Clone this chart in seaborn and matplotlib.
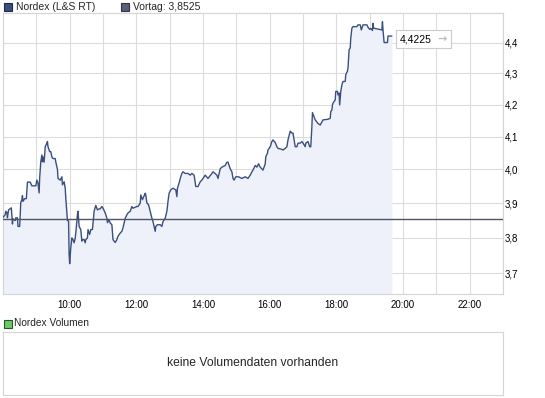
import numpy as np
import pandas as pd
import matplotlib
matplotlib.use("Agg")
import matplotlib.pyplot as plt
import seaborn as sns
from matplotlib.patches import Rectangle
from matplotlib.offsetbox import TextArea, HPacker, AnnotationBbox
from matplotlib.ticker import FixedLocator, FixedFormatter, NullLocator, NullFormatter

# price data, minutes after 08:00 and price in EUR
minutes = [0, 4, 5, 7, 8, 10, 15, 16, 17, 18, 22, 23, 26, 27, 30, 32, 34, 35, 36, 39,
           42, 44, 49, 52, 59, 61, 63, 65, 66, 68, 70, 71, 72, 74, 76, 79, 80, 81, 84, 86,
           88, 90, 94, 95, 98, 99, 103, 106, 107, 110, 112, 113, 116, 118, 119, 120, 122, 124, 126, 128,
           130, 131, 134, 135, 137, 140, 142, 144, 146, 148, 149, 152, 153, 156, 158, 161, 164, 167, 170, 173,
           175, 178, 180, 184, 187, 188, 191, 193, 196, 198, 202, 205, 207, 211, 214, 216, 220, 223, 225, 229,
           232, 234, 241, 243, 247, 248, 251, 256, 257, 259, 262, 268, 270, 274, 275, 278, 283, 286, 288, 292,
           295, 297, 299, 302, 306, 311, 313, 314, 317, 319, 322, 324, 328, 333, 337, 340, 344, 347, 351, 355,
           358, 364, 369, 376, 378, 385, 387, 391, 394, 400, 403, 405, 409, 412, 414, 416, 419, 424, 430, 436,
           441, 445, 448, 450, 454, 457, 460, 463, 468, 472, 473, 476, 477, 481, 484, 486, 490, 493, 495, 502,
           504, 508, 511, 513, 517, 520, 522, 526, 529, 531, 535, 538, 540, 544, 545, 549, 552, 554, 556, 557,
           562, 567, 571, 576, 585, 589, 590, 592, 593, 594, 598, 599, 602, 603, 605, 606, 608, 610, 612, 616,
           617, 620, 621, 623, 625, 626, 628, 630, 637, 639, 643, 645, 648, 655, 657, 660, 662, 665, 666, 667,
           682, 683, 684, 686, 692, 693, 700]
prices = [3.858, 3.866, 3.876, 3.872, 3.857, 3.880, 3.886, 3.863, 3.839, 3.854, 3.849, 3.857, 3.857, 3.832, 3.832, 3.902, 3.910, 3.922, 3.905, 3.913,
          3.913, 3.962, 3.962, 3.951, 3.951, 3.968, 3.959, 3.930, 3.974, 4.023, 4.044, 4.023, 4.038, 4.022, 4.069, 4.080, 4.085, 4.069, 4.054, 4.054,
          4.038, 4.033, 4.033, 4.023, 4.000, 3.973, 3.968, 3.978, 3.954, 3.963, 3.944, 3.915, 3.849, 3.848, 3.753, 3.726, 3.771, 3.799, 3.794, 3.785,
          3.799, 3.813, 3.866, 3.876, 3.832, 3.823, 3.790, 3.794, 3.794, 3.785, 3.794, 3.799, 3.823, 3.809, 3.823, 3.823, 3.876, 3.893, 3.880, 3.883,
          3.883, 3.890, 3.885, 3.871, 3.856, 3.843, 3.851, 3.842, 3.837, 3.794, 3.786, 3.794, 3.804, 3.813, 3.818, 3.828, 3.856, 3.866, 3.871, 3.876,
          3.890, 3.885, 3.890, 3.890, 3.900, 3.924, 3.910, 3.929, 3.924, 3.900, 3.895, 3.856, 3.846, 3.818, 3.832, 3.837, 3.837, 3.832, 3.846, 3.856,
          3.876, 3.905, 3.929, 3.939, 3.944, 3.939, 3.919, 3.944, 3.959, 3.973, 3.988, 3.993, 3.988, 3.988, 3.983, 3.988, 3.983, 3.949, 3.949, 3.963,
          3.968, 3.983, 3.973, 3.988, 3.993, 3.983, 3.973, 4.002, 4.007, 4.012, 4.022, 4.022, 4.002, 3.993, 3.973, 3.968, 3.978, 3.978, 3.973, 3.978,
          3.973, 3.983, 3.993, 3.998, 4.012, 4.007, 4.017, 4.007, 3.998, 4.017, 4.038, 4.049, 4.059, 4.069, 4.085, 4.090, 4.082, 4.069, 4.064, 4.061,
          4.059, 4.064, 4.069, 4.090, 4.117, 4.111, 4.111, 4.069, 4.069, 4.080, 4.080, 4.085, 4.080, 4.069, 4.080, 4.085, 4.069, 4.069, 4.131, 4.175,
          4.152, 4.141, 4.136, 4.152, 4.154, 4.157, 4.178, 4.183, 4.199, 4.205, 4.215, 4.242, 4.242, 4.231, 4.237, 4.199, 4.242, 4.263, 4.274, 4.274,
          4.296, 4.307, 4.318, 4.377, 4.383, 4.416, 4.449, 4.454, 4.454, 4.460, 4.460, 4.443, 4.460, 4.460, 4.452, 4.445, 4.448, 4.441, 4.465, 4.449,
          4.443, 4.471, 4.443, 4.401, 4.401, 4.4225, 4.4225]

prev_close = 3.8525
last_price = 4.4225
y_ticks = [3.7, 3.8, 3.9, 4.0, 4.1, 4.2, 4.3, 4.4]
y_labels = ["3,7", "3,8", "3,9", "4,0", "4,1", "4,2", "4,3", "4,4"]
x_hours = list(range(8, 24))
x_labels = ["", "", "10:00", "", "12:00", "", "14:00", "", "16:00", "", "18:00", "", "20:00", "", "22:00", ""]

df = pd.DataFrame({"hour": 8 + np.array(minutes) / 60.0, "price": prices})

sns.set_style("white")
plt.rcParams["font.family"] = ["Liberation Sans", "DejaVu Sans"]

W, H = 545, 398
fig = plt.figure(figsize=(W / 100, H / 100), dpi=100)


def box(l, t, r, b):
    return [l / W, 1 - b / H, (r - l) / W, (b - t) / H]


line_col = "#3b4f7d"
grid_col = "#dcdcdc"

ax = fig.add_axes(box(3, 13, 503, 294))
ax.set_yscale("log")
ax.fill_between(df["hour"], df["price"], 3.5, color="#eef1fa", lw=0, zorder=1)
sns.lineplot(data=df, x="hour", y="price", sort=False, estimator=None,
             color=line_col, lw=1.0, ax=ax, zorder=3)
ax.axhline(prev_close, color="#4f5468", lw=1.0, zorder=4)

ax.set_xlim(8, 23)
ax.set_ylim(3.642, 4.50)
ax.xaxis.set_major_locator(FixedLocator(x_hours))
ax.xaxis.set_major_formatter(FixedFormatter(x_labels))
ax.yaxis.set_major_locator(FixedLocator(y_ticks))
ax.yaxis.set_major_formatter(FixedFormatter(y_labels))
ax.yaxis.set_minor_locator(NullLocator())
ax.yaxis.set_minor_formatter(NullFormatter())
ax.yaxis.tick_right()
ax.tick_params(axis="both", length=0, labelsize=7, colors="#000000")
ax.tick_params(axis="x", pad=4.5)
ax.tick_params(axis="y", pad=1.5)
ax.grid(True, color=grid_col, lw=0.8)
ax.set_xlabel("")
ax.set_ylabel("")
for s in ax.spines.values():
    s.set_color("#d4d4d4")
    s.set_linewidth(0.8)

# last price tag: value in black, arrow in grey, one frame around both
tag = HPacker(children=[TextArea("4,4225", textprops=dict(fontsize=7.5, color="black")),
                        TextArea("\u2192", textprops=dict(fontsize=8, color="#bbbbbb",
                                                          fontweight="bold",
                                                          family=["DejaVu Sans"]))],
              align="center", pad=0, sep=4)
ab = AnnotationBbox(tag, (df["hour"].iloc[-1], last_price), xybox=(6.0, -2.2),
                    xycoords="data", boxcoords="offset points", box_alignment=(0, 0.5),
                    frameon=True, pad=0.25,
                    bboxprops=dict(boxstyle="square", fc="white", ec="#cccccc", lw=0.8))
ab.set_zorder(6)
ax.add_artist(ab)

# header legend
fig.add_artist(Rectangle((3.5 / W, 1 - 10.5 / H), 8 / W, 8 / H, transform=fig.transFigure,
                         fc=line_col, ec="#1f2a45", lw=0.8))
fig.text(15.5 / W, 1 - 6.8 / H, "Nordex (L&S RT)", fontsize=7.5, va="center", ha="left")
fig.add_artist(Rectangle((121 / W, 1 - 10.5 / H), 8 / W, 8 / H, transform=fig.transFigure,
                         fc="#5a5f75", ec="#30334a", lw=0.8))
fig.text(133 / W, 1 - 6.8 / H, "Vortag: 3,8525", fontsize=7.5, va="center", ha="left")

# volume panel
fig.add_artist(Rectangle((3.5 / W, 1 - 327.5 / H), 8 / W, 8 / H, transform=fig.transFigure,
                         fc="#66cc66", ec="#2f4f2f", lw=0.8))
fig.text(14.5 / W, 1 - 323.5 / H, "Nordex Volumen", fontsize=7.3, va="center", ha="left")

vax = fig.add_axes(box(3, 332, 503, 395))
vax.set_xticks([])
vax.set_yticks([])
for s in vax.spines.values():
    s.set_color("#d4d4d4")
    s.set_linewidth(0.8)
vax.text(0.5, 0.5, "keine Volumendaten vorhanden", transform=vax.transAxes,
         ha="center", va="center", fontsize=8.7)

fig.savefig("out.png", dpi=100)
